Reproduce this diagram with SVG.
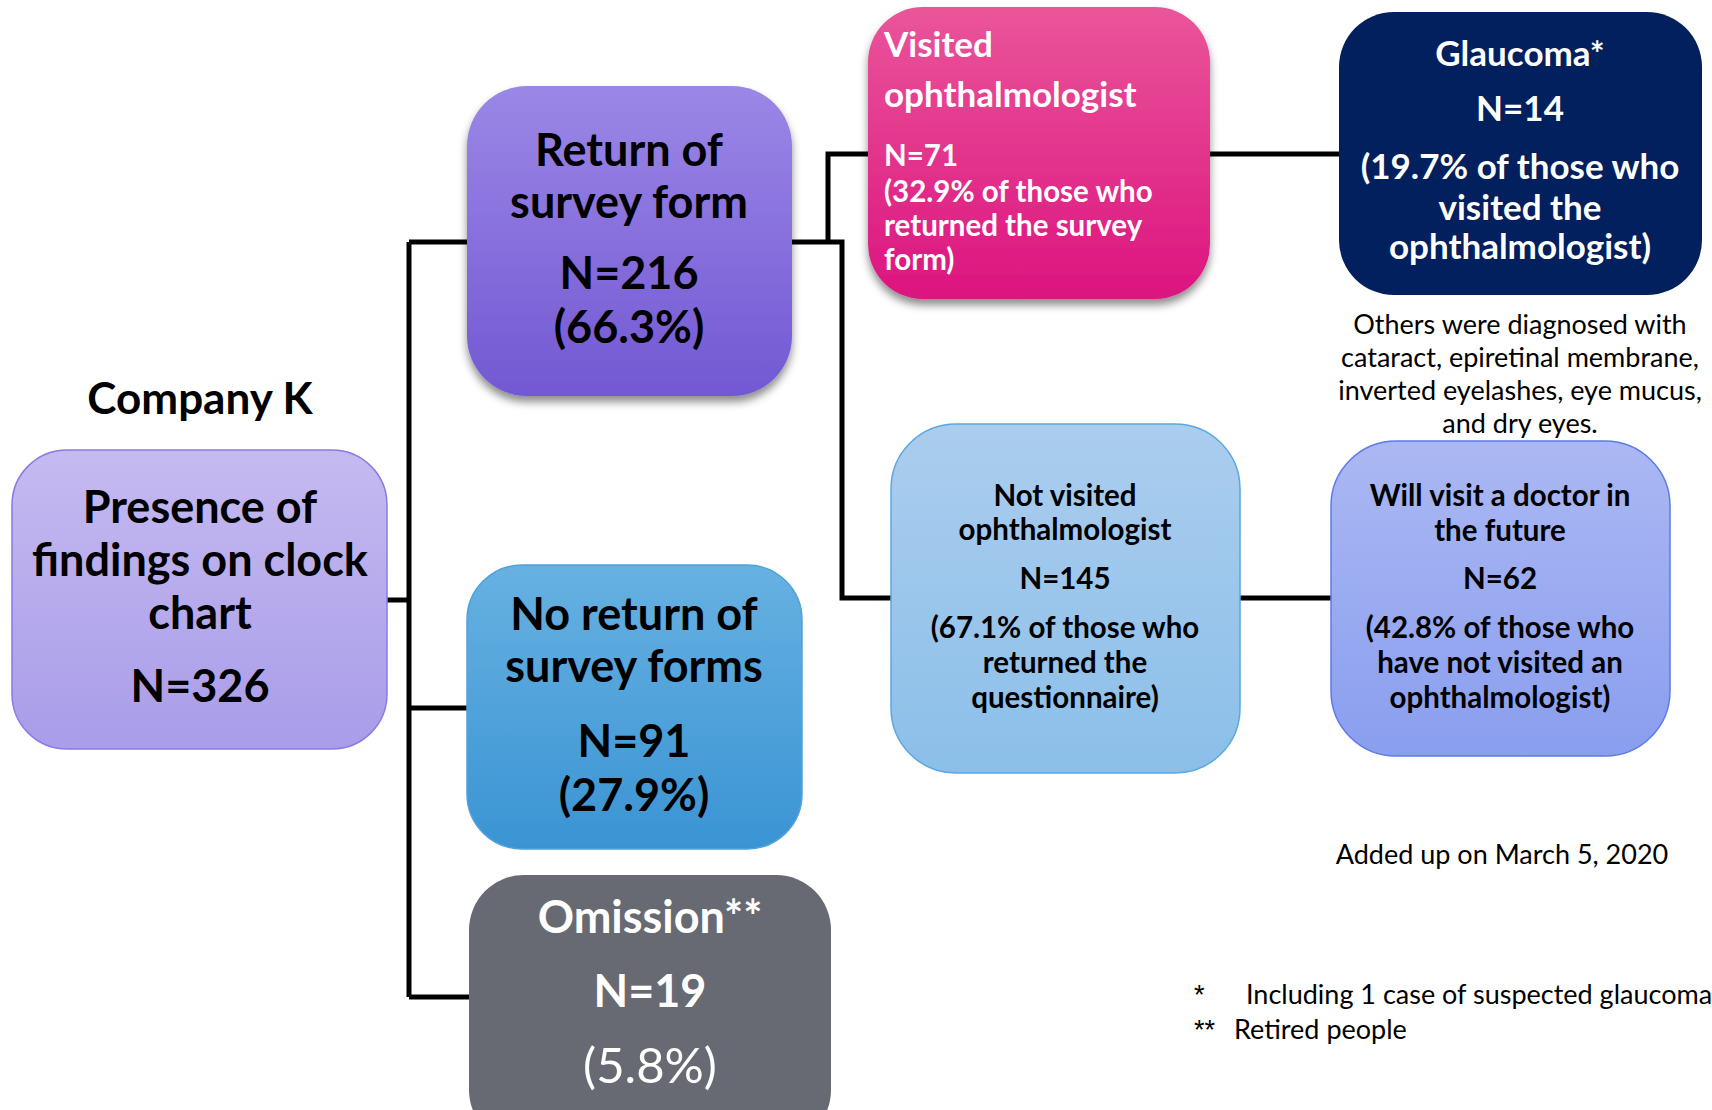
<svg xmlns="http://www.w3.org/2000/svg" width="1712" height="1110" viewBox="0 0 1712 1110">
<defs>
<linearGradient id="gA" x1="0" y1="0" x2="0" y2="1"><stop offset="0" stop-color="#c5baf0"/><stop offset="1" stop-color="#a99ce9"/></linearGradient>
<linearGradient id="gB" x1="0" y1="0" x2="0" y2="1"><stop offset="0" stop-color="#9b87e6"/><stop offset="1" stop-color="#7358d3"/></linearGradient>
<linearGradient id="gC" x1="0" y1="0" x2="0" y2="1"><stop offset="0" stop-color="#ea559a"/><stop offset="1" stop-color="#dc147f"/></linearGradient>
<linearGradient id="gE" x1="0" y1="0" x2="0" y2="1"><stop offset="0" stop-color="#abcdee"/><stop offset="1" stop-color="#8bbfe9"/></linearGradient>
<linearGradient id="gF" x1="0" y1="0" x2="0" y2="1"><stop offset="0" stop-color="#abb8f3"/><stop offset="1" stop-color="#8a9eef"/></linearGradient>
<linearGradient id="gG" x1="0" y1="0" x2="0" y2="1"><stop offset="0" stop-color="#67b1e2"/><stop offset="1" stop-color="#3a94d3"/></linearGradient>
<filter id="sh" x="-10%" y="-10%" width="120%" height="125%"><feDropShadow dx="0" dy="6" stdDeviation="4" flood-color="#000" flood-opacity="0.45"/></filter>
</defs>
<style>
text{font-family:Lato,"Liberation Sans",sans-serif;text-anchor:middle;}
.big{font-size:45px;font-weight:bold;}
.mid{font-size:35px;font-weight:bold;}
.sm{font-size:29.5px;font-weight:bold;}
.note{font-size:27px;font-weight:normal;}
.w{fill:#fff;}
.k{fill:#000;}
.conn{fill:none;stroke:#000;stroke-width:5;}
</style>
<g id="connectors">
<path class="conn" d="M387,600 H409 M409,242 V997 M409,242 H467 M409,708 H467 M409,997 H469"/>
<path class="conn" d="M792,242 H842 V598 H891 M828,242 V154 H868"/>
<path class="conn" d="M1210,154 H1339"/>
<path class="conn" d="M1240,598 H1331"/>
</g>
<g id="company-label"><text class="k" x="200" y="414" style="font-size:44px;font-weight:bold">Company K</text></g>
<g id="presence">
<rect x="12" y="450" width="375" height="299" rx="55" fill="url(#gA)" stroke="#8c7ae3" stroke-width="1.5"/>
<text class="big k" x="200" y="523">Presence of</text>
<text class="big k" x="200" y="576">findings on clock</text>
<text class="big k" x="200" y="629">chart</text>
<text class="big k" x="200" y="702">N=326</text>
</g>
<g id="return">
<rect x="467" y="86" width="325" height="310" rx="60" fill="url(#gB)" filter="url(#sh)"/>
<text class="big k" x="629" y="166">Return of</text>
<text class="big k" x="629" y="218">survey form</text>
<text class="big k" x="629" y="289">N=216</text>
<text class="big k" x="629" y="343">(66.3%)</text>
</g>
<g id="noreturn">
<rect x="467" y="565" width="335" height="284" rx="55" fill="url(#gG)" stroke="#4ea3dc" stroke-width="1.5"/>
<text class="big k" x="634" y="630">No return of</text>
<text class="big k" x="634" y="682">survey forms</text>
<text class="big k" x="634" y="757">N=91</text>
<text class="big k" x="634" y="811">(27.9%)</text>
</g>
<g id="omission">
<rect x="469" y="875" width="362" height="270" rx="55" fill="#676a73"/>
<text class="big w" x="650" y="933">Omission**</text>
<text class="big w" x="650" y="1007">N=19</text>
<text class="w" x="650" y="1083" style="font-size:49px;">(5.8%)</text>
</g>
<g id="visited">
<rect x="868" y="7" width="342" height="292" rx="55" fill="url(#gC)" filter="url(#sh)"/>
<text class="mid w" x="884" y="57" style="text-anchor:start">Visited</text>
<text class="mid w" x="884" y="107" style="text-anchor:start">ophthalmologist</text>
<text class="sm w" x="884" y="166" style="text-anchor:start">N=71</text>
<text class="sm w" x="884" y="202" style="text-anchor:start">(32.9% of those who</text>
<text class="sm w" x="884" y="236" style="text-anchor:start">returned the survey</text>
<text class="sm w" x="884" y="270" style="text-anchor:start">form)</text>
</g>
<g id="glaucoma">
<rect x="1339" y="12" width="363" height="283" rx="55" fill="#021f5e"/>
<text class="mid w" x="1520" y="66">Glaucoma*</text>
<text class="mid w" x="1520" y="121">N=14</text>
<text class="mid w" x="1520" y="179">(19.7% of those who</text>
<text class="mid w" x="1520" y="220">visited the</text>
<text class="mid w" x="1520" y="259">ophthalmologist)</text>
</g>
<g id="others-note">
<text class="note k" x="1520" y="334">Others were diagnosed with</text>
<text class="note k" x="1520" y="367">cataract, epiretinal membrane,</text>
<text class="note k" x="1520" y="400">inverted eyelashes, eye mucus,</text>
<text class="note k" x="1520" y="433">and dry eyes.</text>
</g>
<g id="notvisited">
<rect x="891" y="424" width="349" height="349" rx="65" fill="url(#gE)" stroke="#5aa8e0" stroke-width="1.5"/>
<text class="sm k" x="1065" y="506">Not visited</text>
<text class="sm k" x="1065" y="540">ophthalmologist</text>
<text class="sm k" x="1065" y="589">N=145</text>
<text class="sm k" x="1065" y="638">(67.1% of those who</text>
<text class="sm k" x="1065" y="673">returned the</text>
<text class="sm k" x="1065" y="708">questionnaire)</text>
</g>
<g id="willvisit">
<rect x="1331" y="441" width="339" height="315" rx="65" fill="url(#gF)" stroke="#5b7be8" stroke-width="1.5"/>
<text class="sm k" x="1500" y="506">Will visit a doctor in</text>
<text class="sm k" x="1500" y="541">the future</text>
<text class="sm k" x="1500" y="589">N=62</text>
<text class="sm k" x="1500" y="638">(42.8% of those who</text>
<text class="sm k" x="1500" y="673">have not visited an</text>
<text class="sm k" x="1500" y="708">ophthalmologist)</text>
</g>
<g id="date-note"><text class="note k" x="1502" y="864">Added up on March 5, 2020</text></g>
<g id="footnotes">
<text class="note k" x="1194" y="1004" style="text-anchor:start;font-family:'Liberation Sans',sans-serif">*</text>
<text class="note k" x="1246" y="1004" style="text-anchor:start">Including 1 case of suspected glaucoma</text>
<text class="note k" x="1194" y="1039" style="text-anchor:start;font-family:'Liberation Sans',sans-serif">**</text>
<text class="note k" x="1234" y="1039" style="text-anchor:start">Retired people</text>
</g>
</svg>
